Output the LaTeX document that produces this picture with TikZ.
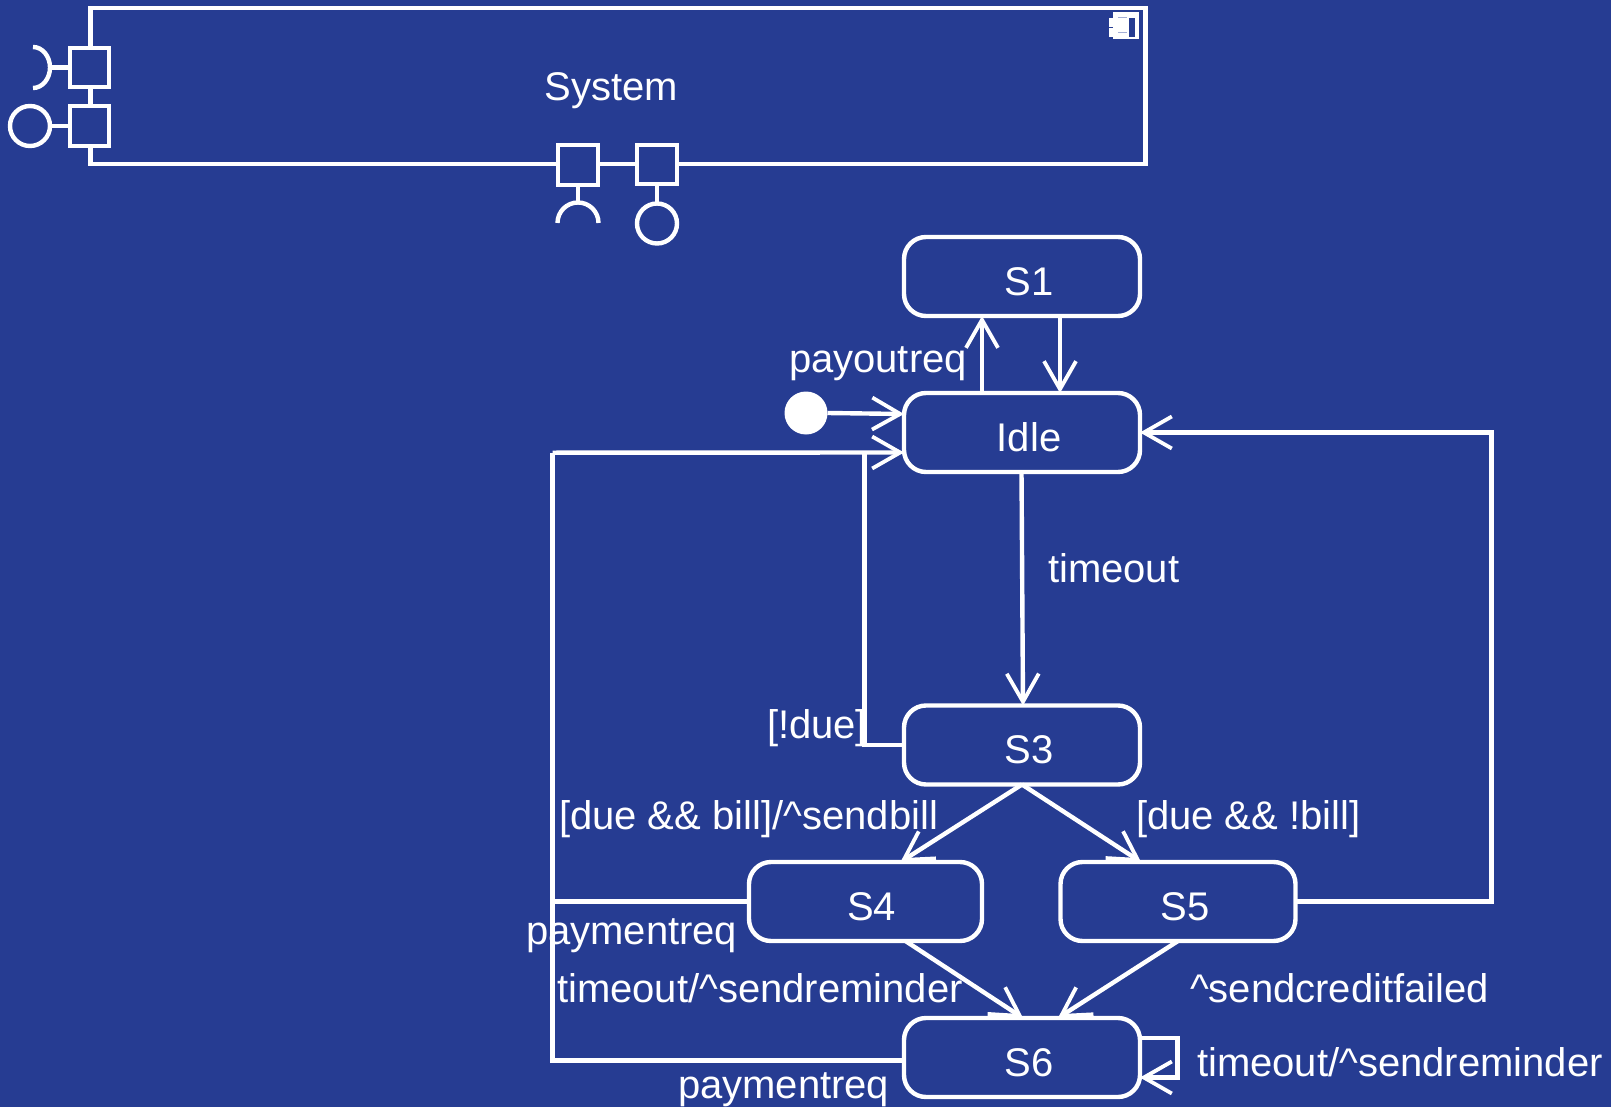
\documentclass[tikz,border=0pt]{standalone}
\usepackage{fontspec}
\setmainfont[Kerning=Off]{Liberation Sans}
\usetikzlibrary{arrows.meta}
\definecolor{bgblue}{HTML}{263C92}
\definecolor{softline}{HTML}{A3AED6}
\tikzset{
  wire/.style={draw=white,line width=4.4pt},
  flow/.style={wire,-{Straight Barb[length=28pt,width=32pt,line width=3.8pt]}},
  statebox/.style={draw=white,line width=4.4pt,rounded corners=22pt,text=white,inner sep=0pt,outer sep=0pt,
    minimum width=235pt,text height=58pt,text depth=21pt},
  portbox/.style={draw=white,fill=bgblue,line width=4.4pt,inner sep=0pt,outer sep=0pt,minimum size=39.5pt},
  lolly/.style={draw=white,line width=4.4pt,circle,inner sep=0pt,outer sep=0pt,minimum size=40pt},
  lab/.style={text=white,anchor=base west,inner sep=0pt,outer sep=0pt},
  iconpart/.style={inner sep=0pt,outer sep=0pt,anchor=north west},
}
\begin{document}
\begin{tikzpicture}[x=1pt,y=-1pt,font=\fontsize{40}{44}\selectfont]
\useasboundingbox (0,0) rectangle (1611,1107);
\fill[bgblue] (0,0) rectangle (1611,1107);
% component
\node[draw=white,line width=4.4pt,inner sep=0pt,outer sep=0pt,anchor=north west,minimum width=1055pt,minimum height=156pt,text=white,text height=92pt,text depth=64pt] (system) at (90.3,8.3) {System\hspace*{13pt}};
% component icon
\node[iconpart,fill=white,minimum width=26pt,minimum height=27pt] (icon) at (1113,12) {};
\node[iconpart,fill=bgblue,minimum width=6pt,minimum height=19pt] (slot) at (1128.5,18) {};
\node[iconpart,fill=white,minimum width=16pt,minimum height=8.5pt] (tab1) at (1109,18.5) {};
\node[iconpart,fill=white,minimum width=16pt,minimum height=9pt] (tab2) at (1109,28) {};
\node[iconpart,fill=softline,minimum width=9pt,minimum height=1.5pt] (soft1) at (1118,17) {};
\node[iconpart,fill=softline,minimum width=9pt,minimum height=1.5pt] (soft2) at (1118,32) {};
% ports
\node[portbox] (pl1) at (89.5,67.5) {};
\node[portbox] (pl2) at (89.5,126) {};
\node[portbox] (pb1) at (578,165) {};
\node[portbox] (pb2) at (657,164.5) {};
\node[lolly] (il) at (30,126) {};
\node[lolly] (ib) at (657,223.5) {};
\coordinate (rl) at (50.5,67.5);
\coordinate (rb) at (578,202.5);
\draw[wire] (il.east) -- (pl2.west);
\draw[wire] (rl) -- (pl1.west);
\draw[wire,line cap=butt] (33,47) arc[start angle=90,end angle=-90,x radius=17pt,y radius=20.5pt];
\draw[wire] (pb1.south) -- (rb);
\draw[wire,line cap=butt] (557.5,223) arc[start angle=180,end angle=0,radius=20.5pt];
\draw[wire] (pb2.south) -- (ib.north);
% states
\node[statebox,minimum width=236pt] (s1) at (1022,276.5) {\hspace*{14pt}S1};
\node[statebox,minimum width=236pt] (idle) at (1022,432.5) {\hspace*{14pt}Idle};
\node[statebox,minimum width=236pt] (s3) at (1022,745) {\hspace*{14pt}S3};
\node[statebox,minimum width=233pt] (s4) at (865.5,901.5) {\hspace*{12pt}S4};
\node[statebox] (s5) at (1178,901.5) {\hspace*{14pt}S5};
\node[statebox,minimum width=236pt] (s6) at (1022,1057.5) {\hspace*{14pt}S6};
\node[circle,fill=white,inner sep=0pt,outer sep=0pt,minimum size=43pt] (init) at (806,413) {};
% corners of the routed connectors
\coordinate (a) at (864.5,745);
\coordinate (a2) at (864.5,452.7);
\coordinate (b) at (552.5,901.5);
\coordinate (b2) at (552.5,1060.5);
\coordinate (b3) at (552.5,452.7);
\coordinate (c) at (1491.5,901.5);
\coordinate (c2) at (1491.5,432.5);
\coordinate (l1) at (1177.5,1038);
\coordinate (l2) at (1177.5,1077.5);
% connectors
\draw[flow] (init.east) -- ([yshift=18.5pt]idle.west);
\draw[flow] ([xshift=-40pt]idle.north) -- ([xshift=-40pt]s1.south);
\draw[flow] ([xshift=38pt]s1.south) -- ([xshift=38pt]idle.north);
\draw[flow] ([xshift=-0.5pt]idle.south) -- ([xshift=1pt]s3.north);
\draw[wire] (s3.west) -- (a) -- (a2);
\draw[flow] (b3) -- ([yshift=-20pt]idle.west);
\draw[wire] (s4.west) -- (b);
\draw[wire] ([yshift=-3pt]s6.west) -- (b2) -- (b3);
\draw[flow] (s5.east) -- (c) -- (c2) -- (idle.east);
\draw[flow] (s3.south) -- ([xshift=35pt]s4.north);
\draw[flow] (s3.south) -- ([xshift=-37pt]s5.north);
\draw[flow] ([xshift=40pt]s4.south) -- ([xshift=1pt]s6.north);
\draw[flow] (s5.south) -- ([xshift=36pt]s6.north);
\draw[flow] ([yshift=19.5pt]s6.east) -- (l1) -- (l2) -- ([yshift=-20pt]s6.east);
% labels
\node[lab] (t1) at (789,372.7) {payoutreq};
\node[lab] (t2) at (1048,582.7) {timeout};
\node[lab] (t3) at (767,738) {[!due]};
\node[lab] (t4) at (559,829) {[due \&\& bill]/\textasciicircum sendbill};
\node[lab] (t5) at (1136,829) {[due \&\& !bill]};
\node[lab] (t6) at (526,944.5) {paymentreq};
\node[lab] (t7) at (557,1002.5) {timeout/\textasciicircum sendreminder};
\node[lab] (t8) at (1190,1002.5) {\textasciicircum sendcreditfailed};
\node[lab] (t9) at (1197,1076) {timeout/\textasciicircum sendreminder};
\node[lab] (t10) at (678,1098.5) {paymentreq};
\end{tikzpicture}
\end{document}
